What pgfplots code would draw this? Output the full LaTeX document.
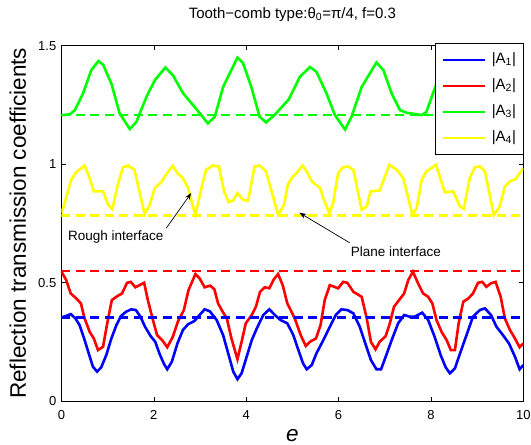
\documentclass[border=0pt]{standalone}
\usepackage{fontspec}
\setmainfont{Liberation Sans}
\usepackage{pgfplots}
\pgfplotsset{compat=1.18}
\usetikzlibrary{arrows.meta}

\definecolor{mblue}{RGB}{0,0,255}
\definecolor{mred}{RGB}{255,0,0}
\definecolor{mgreen}{RGB}{0,255,0}
\definecolor{myellow}{RGB}{255,255,0}

\pgfplotstableread{
x y
0 0.353
0.10 0.359
0.20 0.367
0.30 0.349
0.39 0.321
0.49 0.264
0.59 0.201
0.68 0.145
0.77 0.124
0.86 0.142
0.97 0.194
1.08 0.264
1.19 0.321
1.29 0.359
1.40 0.377
1.51 0.387
1.61 0.384
1.71 0.356
1.81 0.313
1.93 0.274
2.03 0.250
2.12 0.201
2.22 0.156
2.29 0.134
2.39 0.166
2.51 0.243
2.63 0.300
2.74 0.324
2.88 0.338
2.99 0.363
3.10 0.387
3.21 0.379
3.36 0.342
3.50 0.278
3.61 0.201
3.72 0.124
3.81 0.092
3.90 0.117
4.01 0.187
4.12 0.257
4.23 0.307
4.37 0.363
4.50 0.387
4.62 0.363
4.74 0.342
4.89 0.328
5.02 0.278
5.13 0.215
5.23 0.159
5.31 0.134
5.42 0.152
5.52 0.201
5.67 0.257
5.81 0.313
5.94 0.363
6.06 0.387
6.19 0.384
6.32 0.370
6.46 0.313
6.57 0.248
6.70 0.173
6.82 0.134
6.92 0.134
7.02 0.187
7.15 0.257
7.29 0.328
7.42 0.363
7.54 0.356
7.65 0.356
7.81 0.373
7.94 0.342
8.08 0.271
8.21 0.194
8.32 0.142
8.41 0.117
8.52 0.138
8.63 0.201
8.77 0.278
8.91 0.356
9.06 0.384
9.17 0.391
9.30 0.363
9.42 0.313
9.56 0.278
9.69 0.243
9.82 0.187
9.92 0.134
10 0.152
}\Aone

\pgfplotstableread{
x y
0 0.546
0.10 0.511
0.20 0.454
0.32 0.433
0.42 0.412
0.50 0.349
0.61 0.292
0.70 0.264
0.79 0.215
0.90 0.229
0.99 0.328
1.09 0.426
1.21 0.443
1.31 0.454
1.42 0.499
1.50 0.503
1.60 0.480
1.79 0.499
1.87 0.426
1.98 0.342
2.07 0.278
2.18 0.257
2.29 0.227
2.41 0.271
2.52 0.335
2.65 0.384
2.75 0.468
2.90 0.536
2.99 0.518
3.10 0.480
3.22 0.487
3.31 0.472
3.39 0.412
3.49 0.377
3.58 0.349
3.68 0.264
3.81 0.176
3.90 0.250
3.99 0.328
4.12 0.363
4.21 0.398
4.30 0.461
4.40 0.480
4.50 0.476
4.60 0.514
4.69 0.536
4.79 0.489
4.89 0.412
5.05 0.349
5.18 0.278
5.29 0.232
5.38 0.250
5.51 0.264
5.61 0.321
5.70 0.426
5.81 0.489
5.99 0.476
6.10 0.503
6.19 0.499
6.32 0.461
6.50 0.440
6.61 0.349
6.70 0.250
6.80 0.218
6.89 0.250
7.02 0.274
7.11 0.328
7.20 0.398
7.31 0.426
7.42 0.454
7.51 0.511
7.61 0.546
7.72 0.497
7.83 0.454
7.94 0.440
8.03 0.412
8.12 0.342
8.23 0.292
8.34 0.257
8.43 0.215
8.52 0.215
8.60 0.328
8.70 0.419
8.81 0.433
8.91 0.454
9.02 0.499
9.11 0.503
9.20 0.482
9.30 0.497
9.40 0.503
9.51 0.440
9.60 0.349
9.71 0.300
9.82 0.264
9.92 0.227
10 0.243
}\Atwo

\pgfplotstableread{
x y
0 1.207
0.18 1.210
0.29 1.228
0.465 1.298
0.645 1.397
0.80 1.435
0.90 1.420
1.08 1.340
1.26 1.214
1.48 1.148
1.62 1.178
1.84 1.284
2.02 1.354
2.25 1.408
2.41 1.376
2.63 1.300
2.88 1.242
3.17 1.172
3.32 1.200
3.50 1.326
3.81 1.450
3.93 1.427
4.11 1.326
4.29 1.200
4.43 1.176
4.61 1.207
4.92 1.273
5.16 1.368
5.38 1.410
5.52 1.390
5.74 1.298
5.92 1.207
6.14 1.146
6.28 1.200
6.50 1.326
6.82 1.429
6.97 1.397
7.15 1.298
7.33 1.228
7.47 1.217
7.80 1.207
7.90 1.220
8.12 1.340
8.35 1.440
8.50 1.420
8.75 1.280
9.05 1.160
9.20 1.190
9.50 1.330
9.85 1.430
10 1.400
}\Athree

\pgfplotstableread{
x y
0 0.793
0.08 0.843
0.21 0.934
0.32 0.966
0.50 0.994
0.61 0.941
0.70 0.885
0.90 0.885
1.01 0.828
1.10 0.810
1.22 0.913
1.33 0.986
1.44 0.994
1.58 0.976
1.80 0.789
1.91 0.828
2.02 0.899
2.16 0.924
2.31 0.969
2.41 0.993
2.51 0.962
2.63 0.941
2.74 0.899
2.90 0.786
3.03 0.899
3.13 0.976
3.28 0.994
3.41 0.990
3.52 0.885
3.62 0.840
3.71 0.845
3.81 0.878
3.93 0.849
4.04 0.845
4.18 0.990
4.29 0.994
4.43 0.969
4.69 0.786
4.82 0.828
4.90 0.913
5.01 0.948
5.09 0.962
5.22 0.994
5.31 0.969
5.42 0.927
5.60 0.899
5.67 0.857
5.80 0.793
5.88 0.835
5.99 0.962
6.10 0.987
6.21 0.990
6.32 0.976
6.50 0.807
6.61 0.821
6.69 0.885
6.89 0.889
7.10 0.997
7.26 0.976
7.40 0.941
7.60 0.786
7.69 0.814
7.80 0.934
7.90 0.969
8.11 0.997
8.19 0.948
8.30 0.881
8.48 0.885
8.63 0.821
8.71 0.811
8.84 0.941
8.95 0.987
9.06 0.990
9.17 0.969
9.36 0.784
9.49 0.821
9.60 0.906
9.71 0.927
9.84 0.938
10 0.983
}\Afour

\begin{document}
\begin{tikzpicture}
\useasboundingbox (-61.5pt,-44pt) rectangle (469.5pt,401pt);
\begin{axis}[
    at={(0,0)}, anchor=south west,
    scale only axis,
    width=461.8pt, height=355.3pt,
    xmin=0, xmax=10, ymin=0, ymax=1.5,
    xtick={0,2,4,6,8,10},
    ytick={0,0.5,1,1.5},
    tick align=inside, tick pos=both,
    major tick length=4.5pt,
    tick style={black, line width=0.6pt},
    axis line style={line width=0.8pt},
    /pgf/number format/assume math mode=true,
    ticklabel style={font=\fontsize{13}{15}\selectfont},
    xticklabel style={anchor=north, inner sep=0pt, yshift=-9pt},
    yticklabel style={anchor=east, inner sep=0pt, xshift=-5pt},
    title={Tooth−comb type:θ\textsubscript{0}=π/4, f=0.3},
    title style={at={(axis description cs:0.5,1.06)}, anchor=base, inner sep=0pt,
        font=\fontsize{15}{17}\selectfont},
    xlabel={\textit{e}},
    xlabel style={at={(axis description cs:0.5,-0.1146)}, anchor=base, inner sep=0pt,
        font=\fontsize{22.5}{24}\selectfont},
    ylabel={Reflection transmission coefficients},
    ylabel style={at={(axis description cs:-0.077,0.5)}, anchor=base, inner sep=0pt,
        font=\fontsize{22.5}{24}\selectfont},
    legend style={at={(axis description cs:1,1.007)}, anchor=north east,
        draw=black, line width=0.8pt, fill=white,
        inner xsep=7pt, inner ysep=9pt,
        font=\fontsize{15}{17}\selectfont,
        nodes={inner sep=0pt, text height=11pt, text depth=3.5pt},
        column sep=5pt, row sep=11.5pt},
    legend cell align=left,
    legend image code/.code={\draw[#1] (0pt,0pt) -- (42pt,0pt);},
]
\addplot[mblue, line width=2.6pt] table {\Aone};
\addplot[mred, line width=2.6pt] table {\Atwo};
\addplot[mgreen, line width=2.6pt] table {\Athree};
\addplot[myellow, line width=2.6pt] table {\Afour};
\addplot[mblue, line width=2.6pt, dash pattern=on 9pt off 5.5pt, forget plot] coordinates {(0,0.353) (10,0.353)};
\addplot[mred, line width=2.6pt, dash pattern=on 9pt off 5.5pt, forget plot] coordinates {(0,0.549) (10,0.549)};
\addplot[mgreen, line width=2.6pt, dash pattern=on 9pt off 5.5pt, forget plot] coordinates {(0,1.207) (10,1.207)};
\addplot[myellow, line width=2.6pt, dash pattern=on 9pt off 5.5pt, forget plot] coordinates {(0,0.782) (10,0.782)};
\legend{|A\textsubscript{1}|, |A\textsubscript{2}|, |A\textsubscript{3}|, |A\textsubscript{4}|}

\node[anchor=base west, inner sep=0pt, font=\fontsize{13.5}{15}\selectfont] at (axis cs:0.141,0.679) {Rough interface};
\draw[line width=0.7pt, -{Stealth[length=7pt,width=5pt]}] (axis cs:2.27,0.73) -- (axis cs:2.81,0.878);
\node[anchor=base west, inner sep=0pt, font=\fontsize{13.5}{15}\selectfont] at (axis cs:6.26,0.612) {Plane interface};
\draw[line width=0.7pt, -{Stealth[length=7pt,width=5pt]}] (axis cs:6.24,0.668) -- (axis cs:5.15,0.795);
\end{axis}
\end{tikzpicture}
\end{document}
